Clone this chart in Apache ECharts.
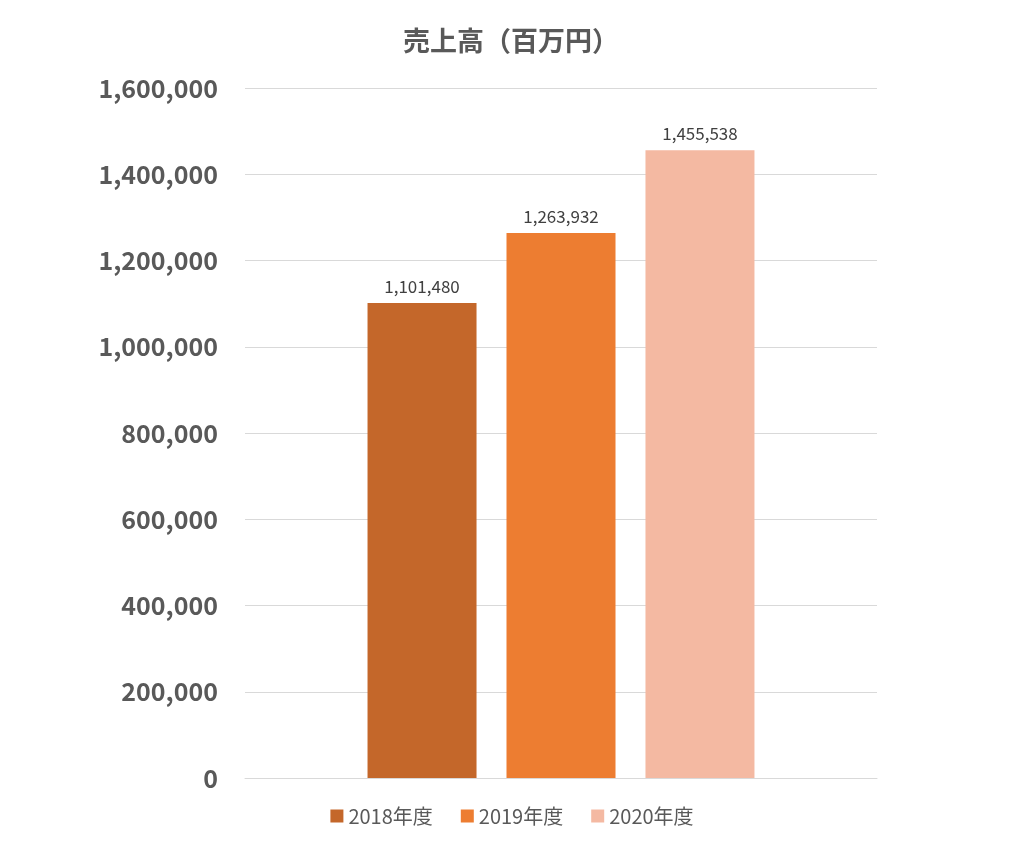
<!DOCTYPE html>
<html><head><meta charset="utf-8">
<script src="https://cdn.jsdelivr.net/npm/echarts@6/dist/echarts.min.js"></script>
<style>html,body{margin:0;padding:0;background:#fff}#c{width:1024px;height:857px}</style>
</head><body><div id="c"></div>
<script>
const seriesNames = ['2018年度','2019年度','2020年度'];
const values = [1101480, 1263932, 1455538];
const colors = ['#C4672A','#ED7D31','#F4B9A2'];
const category = ['売上高'];
const chart = echarts.init(document.getElementById('c'));
const font = '"Noto Sans CJK JP", "Noto Sans", sans-serif';
chart.setOption({
  animation:false,
  textStyle:{fontFamily:font},
  title:{text:'売上高（百万円）',left:506,textAlign:'center',top:22,
    textStyle:{fontSize:27,fontWeight:'bold',color:'#595959',fontFamily:font}},
  legend:{bottom:26,left:'center',itemWidth:13,itemHeight:13,itemGap:28,icon:'rect',
    textStyle:{fontSize:20,color:'#595959',fontFamily:font},data:seriesNames},
  grid:{left:245,right:147,top:88,bottom:79},
  xAxis:{type:'category',data:category,axisLine:{lineStyle:{color:'#d9d9d9'}},axisTick:{show:false},axisLabel:{show:false}},
  yAxis:{type:'value',min:0,max:1600000,interval:200000,
    axisLabel:{fontSize:25,fontWeight:'bold',color:'#595959',margin:27,fontFamily:font,
      formatter:v=>v.toLocaleString('en-US')},
    splitLine:{lineStyle:{color:'#d9d9d9'}},axisLine:{show:false},axisTick:{show:false}},
  series: seriesNames.map((n,i)=>({
    name:n,type:'bar',data:[values[i]],barWidth:109,barGap:'27.5%',
    itemStyle:{color:colors[i]},
    label:{show:true,position:'top',distance:8,fontSize:17,color:'#404040',fontFamily:font,
      formatter:p=>p.value.toLocaleString('en-US')}
  }))
});
</script></body></html>
